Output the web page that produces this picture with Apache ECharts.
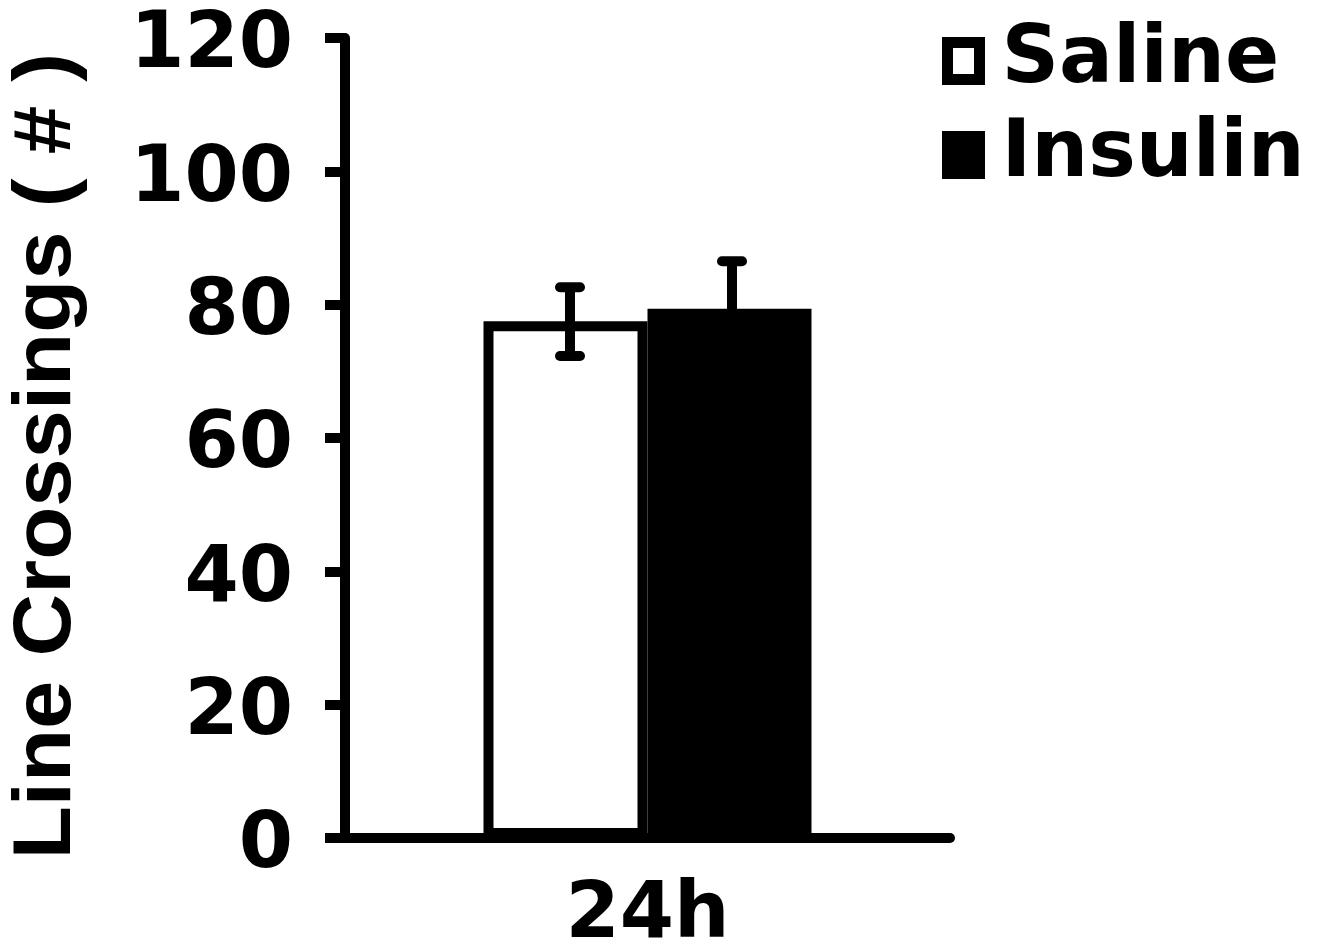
<!DOCTYPE html>
<html>
<head>
<meta charset="utf-8">
<style>
  html, body { margin: 0; padding: 0; background: #fff; }
  #chart { width: 1332px; height: 947px; }
</style>
<script src="https://cdn.jsdelivr.net/npm/echarts@6/dist/echarts.min.js"></script>
</head>
<body>
<div id="chart"></div>
<script>
// ---- data ----
const categories = ['24h'];
const seriesNames = ['Saline', 'Insulin'];
const salineMean = [77.5];
const salineLow = [72.3];
const salineHigh = [82.6];
const insulinMean = [79.4];
const insulinLow = [72.3];
const insulinHigh = [86.5];
const yTicks = [0, 20, 40, 60, 80, 100, 120];
const yTitle = 'Line Crossings ( # )';

// ---- chart ----
const chart = echarts.init(document.getElementById('chart'), null, { renderer: 'canvas' });
const BAR_W = 164;
const tickFont = 'DejaVu Sans';

function errorSeries(name, low, high, offset) {
  return {
    type: 'custom',
    name: name + ' error',
    z: 5,
    data: categories.map((c, i) => [i, low[i], high[i]]),
    encode: { x: 0, y: [1, 2] },
    renderItem: function (params, api) {
      const i = api.value(0);
      const pLow = api.coord([i, api.value(1)]);
      const pHigh = api.coord([i, api.value(2)]);
      const x = pLow[0] + offset;
      const cap = 10;
      const style = { stroke: '#000', lineWidth: 10, lineCap: 'round', fill: null };
      return {
        type: 'group',
        children: [
          { type: 'line', shape: { x1: x, y1: pLow[1], x2: x, y2: pHigh[1] }, style: { stroke: '#000', lineWidth: 10, lineCap: 'butt' } },
          { type: 'line', shape: { x1: x - cap, y1: pHigh[1], x2: x + cap, y2: pHigh[1] }, style: style },
          { type: 'line', shape: { x1: x - cap, y1: pLow[1], x2: x + cap, y2: pLow[1] }, style: style }
        ]
      };
    }
  };
}

const option = {
  backgroundColor: '#fff',
  animation: false,
  grid: { left: 345, right: 382, top: 38, bottom: 109, containLabel: false, outerBoundsMode: 'none' },
  legend: {
    orient: 'vertical',
    left: 937,
    top: 16,
    itemWidth: 32,
    itemHeight: 37,
    itemGap: 14,
    icon: 'rect',
    data: [
      { name: seriesNames[0], itemStyle: { color: '#fff', borderColor: '#000', borderWidth: 11 } },
      { name: seriesNames[1], itemStyle: { color: '#000', borderColor: '#000', borderWidth: 11 } }
    ],
    textStyle: {
      fontFamily: tickFont, fontWeight: 'bold', fontSize: 80, color: '#000',
      lineHeight: 60, padding: [0, 0, 0, 17]
    }
  },
  xAxis: {
    type: 'category',
    data: categories,
    axisLine: { lineStyle: { color: '#000', width: 10 } },
    axisTick: { show: false },
    axisLabel: { fontFamily: tickFont, fontWeight: 'bold', fontSize: 78, color: '#000', margin: 40 },
    splitLine: { show: false }
  },
  yAxis: {
    type: 'value',
    min: 0, max: 120, interval: 20,
    axisLine: { show: true, lineStyle: { color: '#000', width: 10 } },
    axisTick: { show: true, length: 20, lineStyle: { color: '#000', width: 10 } },
    axisLabel: {
      margin: 52,
      formatter: v => (yTicks.indexOf(v) >= 0 ? '{t|' + v + '}' : ''),
      rich: {
        t: {
          fontFamily: tickFont, fontWeight: 'bold', fontSize: 78, color: '#000',
          lineHeight: 96, verticalAlign: 'bottom'
        }
      }
    },
    splitLine: { show: false }
  },
  graphic: [
    {
      type: 'text',
      x: 47, y: 456,
      rotation: Math.PI / 2,
      scaleX: 1.06,
      style: {
        text: yTitle,
        fontFamily: 'Liberation Sans', fontWeight: 'bold', fontSize: 82,
        fill: '#000', align: 'center', verticalAlign: 'middle'
      }
    }
  ],
  series: [
    {
      type: 'bar', name: seriesNames[0], data: salineMean,
      barWidth: BAR_W, barGap: '0%',
      itemStyle: { color: '#fff', borderColor: '#000', borderWidth: 10 },
      z: 2
    },
    {
      type: 'bar', name: seriesNames[1], data: insulinMean,
      barWidth: BAR_W, barGap: '0%',
      itemStyle: { color: '#000', borderColor: '#000', borderWidth: 10 },
      z: 3
    },
    errorSeries(seriesNames[0], salineLow, salineHigh, -77.5),
    errorSeries(seriesNames[1], insulinLow, insulinHigh, 84.5)
  ]
};
chart.setOption(option);
</script>
</body>
</html>
